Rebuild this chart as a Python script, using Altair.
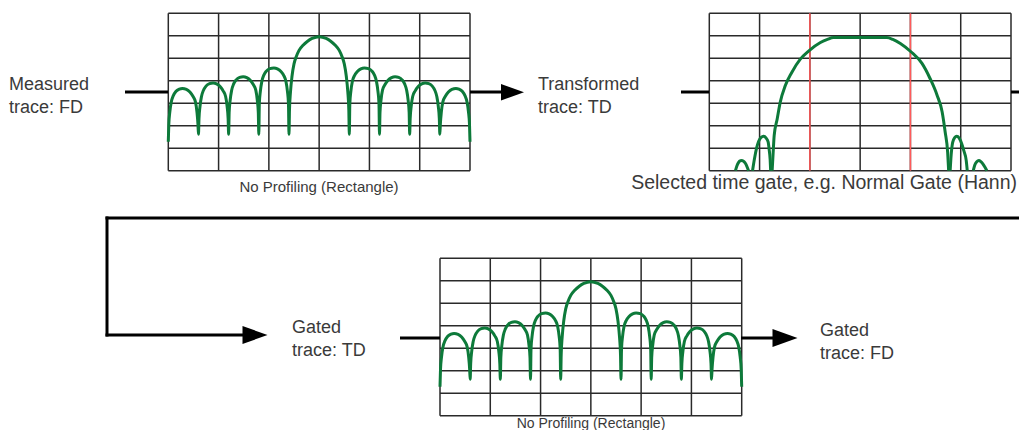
import altair as alt
import pandas as pd

# ---------------- data (grid units: x 0..6 divisions, y 0..7 divisions) ----------------
# Frequency-domain trace (sinc-like magnitude), used for measured and gated FD panels
fd_x = [0.00, 0.01, 0.03, 0.06, 0.10, 0.15, 0.22, 0.28, 0.36, 0.43, 0.49, 0.54, 0.57, 0.59, 0.60,
        0.61, 0.63, 0.66, 0.70, 0.75, 0.82, 0.89, 0.96, 1.03, 1.09, 1.14, 1.17, 1.19, 1.20,
        1.21, 1.23, 1.26, 1.30, 1.35, 1.42, 1.49, 1.56, 1.63, 1.69, 1.74, 1.77, 1.79, 1.80,
        1.81, 1.83, 1.86, 1.90, 1.95, 2.02, 2.10, 2.17, 2.24, 2.30, 2.34, 2.37, 2.39, 2.40,
        2.41, 2.43, 2.46, 2.50, 2.55, 2.60, 2.68, 2.77, 2.86, 3.00, 3.14, 3.23, 3.32, 3.40,
        3.45, 3.50, 3.54, 3.57, 3.59, 3.60,
        3.61, 3.63, 3.66, 3.70, 3.76, 3.83, 3.90, 3.98, 4.05, 4.10, 4.14, 4.17, 4.19, 4.20,
        4.21, 4.23, 4.26, 4.31, 4.37, 4.44, 4.51, 4.58, 4.65, 4.70, 4.74, 4.77, 4.79, 4.80,
        4.81, 4.83, 4.86, 4.91, 4.97, 5.04, 5.11, 5.18, 5.25, 5.30, 5.34, 5.37, 5.39, 5.40,
        5.41, 5.43, 5.46, 5.51, 5.57, 5.64, 5.72, 5.78, 5.85, 5.90, 5.94, 5.97, 5.99, 6.00]
fd_y = [1.29, 2.06, 2.61, 3.06, 3.34, 3.52, 3.63, 3.66, 3.62, 3.50, 3.31, 3.06, 2.61, 2.06, 1.62,
        2.30, 2.85, 3.30, 3.58, 3.76, 3.87, 3.90, 3.86, 3.74, 3.55, 3.30, 2.85, 2.30, 1.62,
        2.58, 3.13, 3.58, 3.86, 4.04, 4.15, 4.18, 4.14, 4.02, 3.83, 3.58, 3.13, 2.58, 1.62,
        2.97, 3.52, 3.97, 4.25, 4.43, 4.54, 4.57, 4.53, 4.41, 4.22, 3.97, 3.52, 2.97, 1.62,
        2.70, 3.50, 4.20, 4.75, 5.10, 5.35, 5.58, 5.76, 5.88, 5.96, 5.88, 5.76, 5.58, 5.35,
        5.10, 4.75, 4.20, 3.50, 2.70, 1.62,
        2.97, 3.52, 3.97, 4.22, 4.41, 4.53, 4.57, 4.54, 4.43, 4.25, 3.97, 3.52, 2.97, 1.62,
        2.58, 3.13, 3.58, 3.83, 4.02, 4.14, 4.18, 4.15, 4.04, 3.86, 3.58, 3.13, 2.58, 1.62,
        2.30, 2.85, 3.30, 3.55, 3.74, 3.86, 3.90, 3.87, 3.76, 3.58, 3.30, 2.85, 2.30, 1.62,
        2.06, 2.61, 3.06, 3.31, 3.50, 3.62, 3.66, 3.63, 3.52, 3.34, 3.06, 2.61, 2.06, 1.29]

# Time-domain trace, drawn as separate segments (gaps fall below the bottom of the grid)
tdA_x = [0.52, 0.55, 0.58, 0.62, 0.65, 0.69, 0.73, 0.76, 0.78]
tdA_y = [0.00, 0.22, 0.36, 0.44, 0.45, 0.40, 0.28, 0.12, 0.00]
tdB_x = [0.86, 0.90, 0.94, 0.98, 1.03, 1.08, 1.13, 1.17, 1.19, 1.21, 1.22]
tdB_y = [0.00, 0.55, 1.00, 1.30, 1.48, 1.53, 1.45, 1.28, 0.95, 0.50, 0.00]
tdC_x = [1.25, 1.27, 1.29, 1.35, 1.41, 1.51, 1.64, 1.81, 1.98, 2.21, 2.35, 2.47,
         3.53, 3.65, 3.80, 4.01, 4.23, 4.39, 4.53, 4.63, 4.69, 4.74, 4.76]
tdC_y = [0.00, 0.81, 1.56, 2.30, 3.04, 3.78, 4.37, 4.96, 5.33, 5.70, 5.84, 5.92,
         5.92, 5.84, 5.66, 5.29, 4.77, 4.10, 3.36, 2.62, 1.73, 0.82, 0.00]
tdD_x = [4.79, 4.81, 4.84, 4.88, 4.92, 4.97, 5.02, 5.06, 5.11, 5.13]
tdD_y = [0.00, 0.70, 1.26, 1.47, 1.53, 1.45, 1.20, 0.90, 0.45, 0.00]
tdE_x = [5.25, 5.28, 5.32, 5.36, 5.40, 5.44, 5.48, 5.52]
tdE_y = [0.00, 0.25, 0.40, 0.45, 0.40, 0.30, 0.16, 0.00]

gate_x = [2, 4]
grid_cols = [0, 1, 2, 3, 4, 5, 6]
grid_rows = [0, 1, 2, 3, 4, 5, 6, 7]

label_measured = ["Measured", "trace: FD"]
label_transformed = ["Transformed", "trace: TD"]
label_gated_td = ["Gated", "trace: TD"]
label_gated_fd = ["Gated", "trace: FD"]
caption_rect = "No Profiling (Rectangle)"
caption_gate = "Selected time gate, e.g. Normal Gate (Hann)"

# ---------------- styling ----------------
GREEN = "#0d7a3a"
GRID = "#2a2a2a"
RED = "#ff5a5a"
TXT = "#3a3a3a"
FONT = "Liberation Sans"
ARROW = "M-1,-0.72L1,0L-1,0.72Z"
M = 8  # page margin: image px -> chart px

fd_df = pd.DataFrame({"fx": fd_x, "fy": fd_y, "seg": "fd"})
td_df = pd.concat([
    pd.DataFrame({"fx": tdA_x, "fy": tdA_y, "seg": "a"}),
    pd.DataFrame({"fx": tdB_x, "fy": tdB_y, "seg": "b"}),
    pd.DataFrame({"fx": tdC_x, "fy": tdC_y, "seg": "c"}),
    pd.DataFrame({"fx": tdD_x, "fy": tdD_y, "seg": "d"}),
    pd.DataFrame({"fx": tdE_x, "fy": tdE_y, "seg": "e"}),
], ignore_index=True)

vgrid_df = pd.DataFrame({"gx": grid_cols, "y0": 0, "y1": 7})
hgrid_df = pd.DataFrame({"gy": grid_rows, "x0": 0, "x1": 6})
gate_df = pd.DataFrame({"gx": gate_x, "y0": 0, "y1": 7})


def panel(left, right, top, bottom, trace_df, gates=False):
    xs = alt.Scale(domain=[0, 6], range=[left - M, right - M], nice=False, zero=False)
    ys = alt.Scale(domain=[0, 7], range=[bottom - M, top - M], nice=False, zero=False)
    vg = alt.Chart(vgrid_df).mark_rule(color=GRID, strokeWidth=1.5).encode(
        x=alt.X("gx:Q", scale=xs, axis=None),
        y=alt.Y("y0:Q", scale=ys, axis=None), y2="y1:Q")
    hg = alt.Chart(hgrid_df).mark_rule(color=GRID, strokeWidth=1.5).encode(
        y=alt.Y("gy:Q", scale=ys, axis=None),
        x=alt.X("x0:Q", scale=xs, axis=None), x2="x1:Q")
    layers = [vg, hg]
    if gates:
        layers.append(alt.Chart(gate_df).mark_rule(color=RED, strokeWidth=1.5).encode(
            x=alt.X("gx:Q", scale=xs, axis=None),
            y=alt.Y("y0:Q", scale=ys, axis=None), y2="y1:Q"))
    layers.append(alt.Chart(trace_df).mark_line(
        color=GREEN, strokeWidth=3, interpolate="monotone", strokeJoin="round").encode(
        x=alt.X("fx:Q", scale=xs, axis=None),
        y=alt.Y("fy:Q", scale=ys, axis=None),
        detail="seg:N"))
    return alt.layer(*layers)


ONE = pd.DataFrame({"k": [1]})


def hline(x1, x2, y, cap="butt"):
    return alt.Chart(ONE).mark_rule(color="black", strokeWidth=3, strokeCap=cap).encode(
        x=alt.value(x1 - M), x2=alt.value(x2 - M), y=alt.value(y - M))


def vline(x, y1, y2, cap="butt"):
    return alt.Chart(ONE).mark_rule(color="black", strokeWidth=3, strokeCap=cap).encode(
        x=alt.value(x - M), y=alt.value(y1 - M), y2=alt.value(y2 - M))


def head(cx, cy, length):
    return alt.Chart(ONE).mark_point(shape=ARROW, filled=True, color="black", opacity=1,
                                     strokeWidth=0, size=length * length).encode(
        x=alt.value(cx - M), y=alt.value(cy - M))


def label(lines, x, y, size=18, align="left"):
    return alt.Chart(ONE).mark_text(align=align, baseline="alphabetic", font=FONT,
                                    fontSize=size, lineHeight=23, color=TXT).encode(
        x=alt.value(x - M), y=alt.value(y - M), text=alt.value(lines))


p1 = panel(168.3, 470.0, 13.3, 170.7, fd_df)
p2 = panel(709.3, 1011.0, 13.3, 170.7, td_df, gates=True)
p3 = panel(440.0, 741.7, 258.3, 415.7, fd_df)

annotations = [
    hline(125, 168, 92), hline(470, 503, 92), head(512.5, 92.3, 23),
    hline(681, 709, 92), hline(1011, 1030, 92),
    hline(107, 1030, 218, cap="square"), vline(107, 218, 335, cap="square"),
    hline(107, 244, 335, cap="square"), head(255, 335, 25),
    hline(400, 440, 338), hline(741, 774, 338), head(785, 338, 25),
    label(label_measured, 9, 90),
    label(label_transformed, 538, 90),
    label(label_gated_td, 292, 333),
    label(label_gated_fd, 820, 336),
    label(caption_rect, 319, 192, size=15, align="center"),
    label(caption_gate, 1017, 189, size=19.5, align="right"),
    label(caption_rect, 591, 427.5, size=14, align="center"),
]

chart = alt.layer(p1, p2, p3, *annotations).resolve_scale(
    x="independent", y="independent"
).properties(
    width=1011, height=422, padding=0, autosize=alt.AutoSizeParams(type="none"),
    background="white"
).configure_view(stroke=None)

chart.save("out.html", embed_options={"renderer": "svg", "actions": False})
